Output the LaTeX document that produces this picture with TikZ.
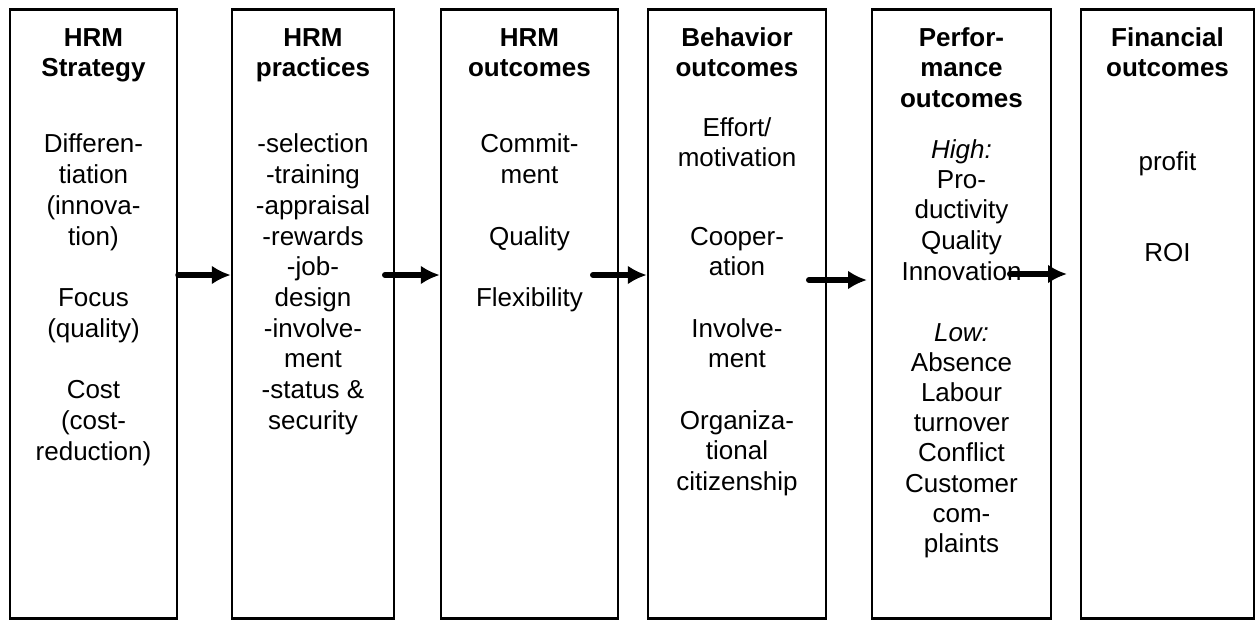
\documentclass[tikz,border=0pt]{standalone}
\usepackage{fontspec}
\setmainfont{Liberation Sans}
\usetikzlibrary{arrows.meta}
\tikzset{
  box/.style={draw, line width=2.5pt, inner sep=0pt, minimum height=609pt},
  lbl/.style={anchor=base, inner sep=0pt, font={\fontsize{26}{30.5}\selectfont}},
  ttl/.style={lbl, font={\fontsize{26}{30.5}\selectfont\bfseries}},
  arr/.style={line width=6pt, line cap=round, -{Latex[length=19pt,width=19pt]}}
}
\newcommand\colText[4]{%
  \foreach \yy/\txt [count=\i] in {#4} {\node[#2] (#1-\i) at (#3,\yy+9) {\txt};}}
\begin{document}
\begin{tikzpicture}[x=1pt,y=-1pt]
\useasboundingbox (0,0) rectangle (1257,621);
% boxes
\node[box, minimum width=167pt] (b1) at (93.5,314) {};
\node[box, minimum width=162pt] (b2) at (313,314) {};
\node[box, minimum width=177pt] (b3) at (529.5,314) {};
\node[box, minimum width=178pt] (b4) at (737,314) {};
\node[box, minimum width=179pt] (b5) at (961.5,314) {};
\node[box, minimum width=173pt] (b6) at (1167.5,314) {};
% titles
\colText{t1}{ttl}{93.5}{37/HRM,67/Strategy}
\colText{t2}{ttl}{313}{37/HRM,67/practices}
\colText{t3}{ttl}{529.5}{37/HRM,67/outcomes}
\colText{t4}{ttl}{737}{37/Behavior,67/outcomes}
\colText{t5}{ttl}{961.5}{37/Perfor-,67/mance,98/outcomes}
\colText{t6}{ttl}{1167.5}{37/Financial,67/outcomes}
% bodies
\colText{c1}{lbl}{93.5}{143/Differen-,174/tiation,205/(innova-,236/tion),297/Focus,328/(quality),389/Cost,420/(cost-,451/reduction)}
\colText{c2}{lbl}{313}{143/-selection,174/-training,205/-appraisal,236/-rewards,266/-job-,297/design,328/-involve-,358/ment,389/-status \&,420/security}
\colText{c3}{lbl}{529.5}{143/Commit-,174/ment,236/Quality,297/Flexibility}
\colText{c4}{lbl}{737}{127/{Effort/},157/motivation,236/Cooper-,266/ation,328/Involve-,358/ment,420/Organiza-,450/tional,481/citizenship}
\colText{c5}{lbl}{961.5}{149/\textit{High:},179/Pro-,209/ductivity,240/Quality,271/Innovation,332/\textit{Low:},362/Absence,392/Labour,422/turnover,452/Conflict,483/Customer,513/com-,543/plaints}
\colText{c6}{lbl}{1167.5}{161/profit,252/ROI}
% arrows
\coordinate (a1) at (0,275);
\coordinate (a2s) at (385,275);
\coordinate (a3s) at (593,275);
\coordinate (a4s) at (809,280);
\coordinate (a4e) at (867,280);
\coordinate (a5s) at (1010,274);
\coordinate (a5e) at (1067,274);
\draw[arr] (b1.east |- a1) -- (b2.west |- a1);
\draw[arr] (a2s) -- (b3.west |- a2s);
\draw[arr] (a3s) -- (b4.west |- a3s);
\draw[arr] (a4s) -- (a4e);
\draw[arr] (a5s) -- (a5e);
\end{tikzpicture}
\end{document}
